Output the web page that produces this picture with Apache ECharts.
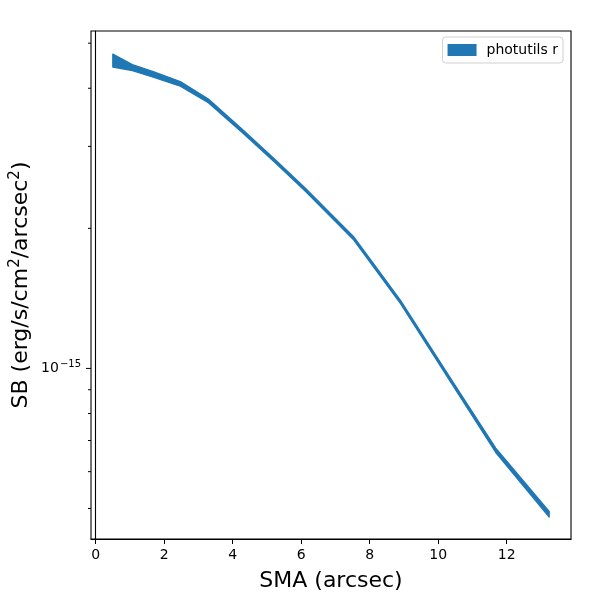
<!DOCTYPE html>
<html>
<head>
<meta charset="utf-8">
<script src="https://cdn.jsdelivr.net/npm/echarts@6/dist/echarts.min.js"></script>
<style>
  html, body { margin: 0; padding: 0; background: #fff; }
  #main { width: 600px; height: 600px; }
</style>
</head>
<body>
<div id="main"></div>
<script>
// profile (erg/s/cm^2/arcsec^2)
const sma = [0.5, 1.07, 1.68, 2.47, 3.29, 4.31, 5.22, 6.13, 7.53, 8.9, 10.3, 11.68, 13.24];
const sbUpper = [4.736e-15, 4.496e-15, 4.343e-15, 4.134e-15, 3.791e-15, 3.249e-15, 2.820e-15,
                 2.437e-15, 1.919e-15, 1.400e-15, 9.676e-16, 6.743e-16, 4.928e-16];
const sbLower = [4.441e-15, 4.365e-15, 4.224e-15, 4.041e-15, 3.724e-15, 3.197e-15, 2.776e-15,
                 2.399e-15, 1.889e-15, 1.378e-15, 9.505e-16, 6.597e-16, 4.793e-16];

const xTicks = [0, 2, 4, 6, 8, 10, 12];
const yMajorTicks = [1e-15];
const yMinorTicks = [5e-16, 6e-16, 7e-16, 8e-16, 9e-16, 2e-15, 3e-15, 4e-15, 5e-15];
const xRange = [-0.137, 13.877];
const yRange = [4.30e-16, 5.31e-15];

const blue = '#1f77b4';
const font = 'DejaVu Sans';

const chart = echarts.init(document.getElementById('main'));

chart.setOption({
  animation: false,
  textStyle: { fontFamily: font },
  grid: {
    left: 90, top: 31, right: 29, bottom: 61,
    show: true, borderColor: '#000', borderWidth: 1.1
  },
  legend: {
    right: 37, top: 37,
    data: ['photutils r'],
    icon: 'rect',
    itemWidth: 29, itemHeight: 12,
    padding: [6, 5, 6, 5],
    borderColor: '#d0d0d0', borderWidth: 1, borderRadius: 3,
    textStyle: { fontFamily: font, fontSize: 14, color: '#000', padding: [0, 0, 0, 5] }
  },
  xAxis: {
    type: 'value',
    min: xRange[0], max: xRange[1],
    name: 'SMA (arcsec)',
    nameLocation: 'middle',
    nameGap: 31,
    nameTextStyle: { fontFamily: font, fontSize: 22, color: '#000' },
    axisLine: { show: true, lineStyle: { color: '#000', width: 1.1 } },
    axisTick: { show: true, length: 5, lineStyle: { color: '#000' }, customValues: xTicks },
    axisLabel: { fontFamily: font, fontSize: 14, color: '#000', margin: 9, customValues: xTicks },
    splitLine: { show: false }
  },
  yAxis: {
    type: 'log',
    logBase: 10,
    min: yRange[0], max: yRange[1],
    name: 'SB (erg/s/cm{sup|2}/arcsec{sup|2})',
    nameLocation: 'middle',
    nameGap: 57,
    nameTextStyle: {
      fontFamily: font, fontSize: 22, color: '#000',
      rich: { sup: { fontFamily: font, fontSize: 15, color: '#000', verticalAlign: 'bottom', padding: [0, 0, 11, 0] } }
    },
    axisLine: { show: true, lineStyle: { color: '#000', width: 1.1 } },
    axisTick: { show: false },
    axisLabel: { show: false },
    splitLine: { show: false }
  },
  series: [{
    name: 'photutils r',
    type: 'custom',
    itemStyle: { color: blue },
    data: [[sma[0], sbUpper[0]]],
    renderItem: function (params, api) {
      const pts = [];
      for (let i = 0; i < sma.length; i++) pts.push(api.coord([sma[i], sbUpper[i]]));
      for (let i = sma.length - 1; i >= 0; i--) pts.push(api.coord([sma[i], sbLower[i]]));
      return {
        type: 'polygon',
        shape: { points: pts },
        style: { fill: blue, stroke: blue, lineWidth: 1.3, lineJoin: 'round' }
      };
    }
  }]
});

// matplotlib-style log ticks on the left axis, placed through the axis scale
const tickGraphics = [];
function addTick(v, len) {
  const p = chart.convertToPixel({ gridIndex: 0 }, [xRange[0], v]);
  tickGraphics.push({
    type: 'line',
    shape: { x1: p[0], y1: p[1], x2: p[0] - len, y2: p[1] },
    style: { stroke: '#000', lineWidth: 1 }
  });
  return p;
}
yMinorTicks.forEach(v => addTick(v, 3));
yMajorTicks.forEach(v => {
  const p = addTick(v, 5);
  const exp = Math.round(Math.log10(v));
  tickGraphics.push({
    type: 'text',
    x: p[0] - 10, y: p[1],
    style: {
      text: '10{sup|\u2212' + Math.abs(exp) + '}',
      fontFamily: font, fontSize: 14, fill: '#000',
      align: 'right', verticalAlign: 'middle',
      rich: { sup: { fontFamily: font, fontSize: 10, fill: '#000', verticalAlign: 'bottom', padding: [0, 0, 8, 1] } }
    }
  });
});
chart.setOption({ graphic: tickGraphics });
</script>
</body>
</html>
